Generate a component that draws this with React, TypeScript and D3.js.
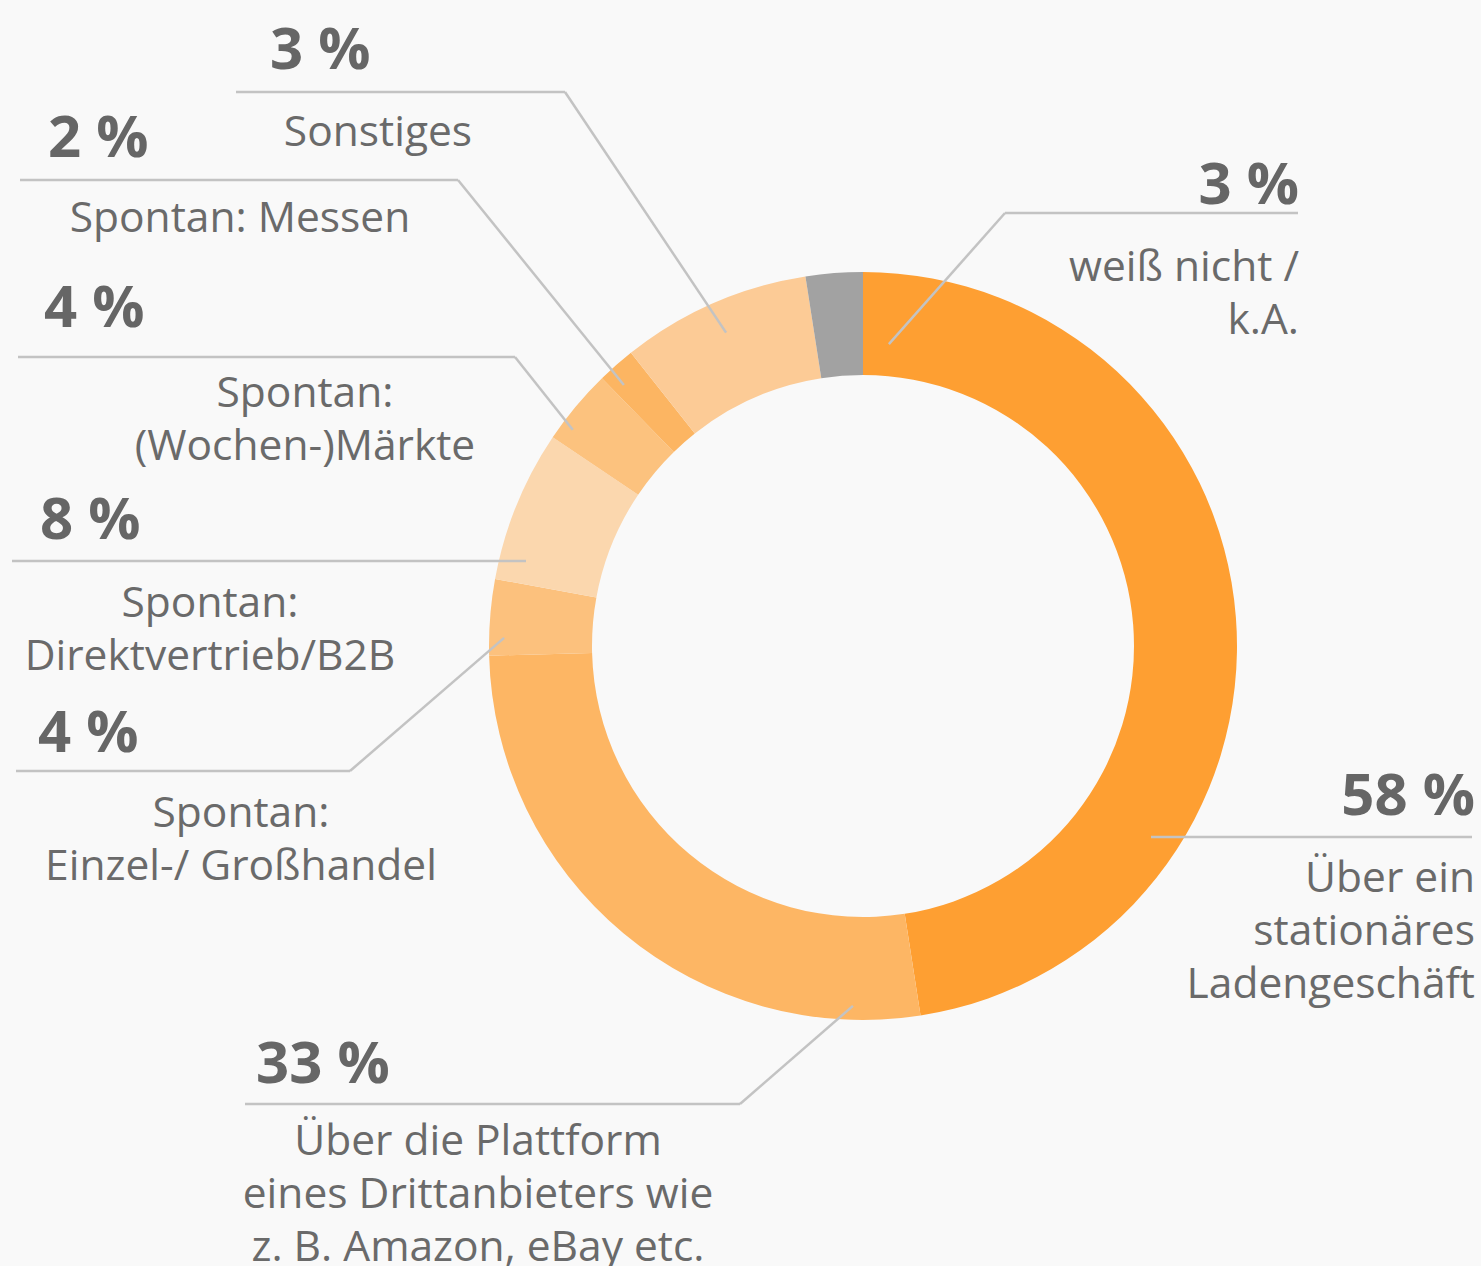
import React, { useEffect, useRef } from 'react';
import * as d3 from 'd3';

// slices clockwise from 12 o'clock
const CATEGORIES = [
  'Über ein stationäres Ladengeschäft',
  'Über die Plattform eines Drittanbieters wie z. B. Amazon, eBay etc.',
  'Spontan: Einzel-/ Großhandel',
  'Spontan: Direktvertrieb/B2B',
  'Spontan: (Wochen-)Märkte',
  'Spontan: Messen',
  'Sonstiges',
  'weiß nicht / k.A.',
];

// printed percentages
const PERCENTS = [58, 33, 4, 8, 4, 2, 3, 3];

// arc sizes as they appear in the picture (the Sonstiges slice is drawn larger than its label)
const SLICE_VALUES = [58, 33, 4, 8, 4, 2, 10, 3];

const LABEL_LINES = [
  ['Über ein', 'stationäres', 'Ladengeschäft'],
  ['Über die Plattform', 'eines Drittanbieters wie', 'z. B. Amazon, eBay etc.'],
  ['Spontan:', 'Einzel-/ Großhandel'],
  ['Spontan:', 'Direktvertrieb/B2B'],
  ['Spontan:', '(Wochen-)Märkte'],
  ['Spontan: Messen'],
  ['Sonstiges'],
  ['weiß nicht /', 'k.A.'],
];

const COLORS = ['#fe9f32', '#fdb664', '#fcc17d', '#fbd7ae', '#fcc27e', '#fcb562', '#fccb96', '#a2a2a2'];

// label placement (layout only)
const LAYOUT = [
  { px: 1475, pAnchor: 'end', py: 815, ly: 837, lx1: 1151, lx2: 1472, leader: null, dx: 1475, dAnchor: 'end', dy: 892 },
  { px: 256, pAnchor: 'start', py: 1083, ly: 1104, lx1: 245, lx2: 740, leader: { from: 740, a: 181.6, r: 360 }, dx: 478, dAnchor: 'middle', dy: 1155 },
  { px: 38, pAnchor: 'start', py: 752, ly: 771, lx1: 16, lx2: 350, leader: { from: 350, a: 271.3, r: 359 }, dx: 241, dAnchor: 'middle', dy: 827 },
  { px: 40, pAnchor: 'start', py: 539, ly: 561, lx1: 12, lx2: 526, leader: null, dx: 210, dAnchor: 'middle', dy: 617 },
  { px: 44, pAnchor: 'start', py: 327, ly: 357, lx1: 18, lx2: 515, leader: { from: 515, a: 306.7, r: 362 }, dx: 305, dAnchor: 'middle', dy: 407 },
  { px: 48, pAnchor: 'start', py: 157, ly: 180, lx1: 20, lx2: 458, leader: { from: 458, a: 317.5, r: 354 }, dx: 240, dAnchor: 'middle', dy: 232 },
  { px: 270, pAnchor: 'start', py: 69, ly: 92, lx1: 236, lx2: 565, leader: { from: 565, a: 336.4, r: 342 }, dx: 378, dAnchor: 'middle', dy: 146 },
  { px: 1299, pAnchor: 'end', py: 204, ly: 213, lx1: 1005, lx2: 1298, leader: { from: 1005, a: 4.9, r: 303 }, dx: 1299, dAnchor: 'end', dy: 281 },
];

const App = () => {
  const ref = useRef<SVGSVGElement>(null);

  useEffect(() => {
    document.body.style.margin = '0';
    document.body.style.background = '#f9f9f9';

    const width = 1481,
      height = 1266,
      cx = 863,
      cy = 646,
      outer = 374,
      inner = 271,
      lineHeight = 53;

    const svg = d3.select(ref.current);
    svg.selectAll('*').remove();
    svg.attr('width', width).attr('height', height);

    svg.append('rect').attr('width', width).attr('height', height).attr('fill', '#f9f9f9');

    const data = CATEGORIES.map((name, i) => ({ name, value: SLICE_VALUES[i], pct: PERCENTS[i], i }));

    const pie = d3
      .pie<any>()
      .sort(null)
      .value(d => d.value);
    const arc = d3.arc<any>().innerRadius(inner).outerRadius(outer);

    const g = svg.append('g').attr('transform', `translate(${cx},${cy})`);
    g.selectAll('path')
      .data(pie(data))
      .enter()
      .append('path')
      .attr('d', arc)
      .attr('fill', d => COLORS[d.data.i]);

    const labels = svg
      .selectAll('.label')
      .data(data)
      .enter()
      .append('g')
      .attr('class', 'label')
      .style('font-family', '"Open Sans", sans-serif');

    // horizontal rule under the percentage
    labels
      .append('line')
      .attr('x1', d => LAYOUT[d.i].lx1)
      .attr('x2', d => LAYOUT[d.i].lx2)
      .attr('y1', d => LAYOUT[d.i].ly)
      .attr('y2', d => LAYOUT[d.i].ly)
      .attr('stroke', '#c3c3c3')
      .attr('stroke-width', 2.5);

    // leader into the ring
    labels
      .filter(d => LAYOUT[d.i].leader !== null)
      .append('line')
      .attr('x1', d => LAYOUT[d.i].leader!.from)
      .attr('y1', d => LAYOUT[d.i].ly)
      .attr('x2', d => {
        const l = LAYOUT[d.i].leader!;
        return cx + d3.pointRadial((l.a * Math.PI) / 180, l.r)[0];
      })
      .attr('y2', d => {
        const l = LAYOUT[d.i].leader!;
        return cy + d3.pointRadial((l.a * Math.PI) / 180, l.r)[1];
      })
      .attr('stroke', '#c3c3c3')
      .attr('stroke-width', 2.5);

    labels
      .append('text')
      .attr('x', d => LAYOUT[d.i].px)
      .attr('y', d => LAYOUT[d.i].py)
      .attr('text-anchor', d => LAYOUT[d.i].pAnchor)
      .style('font-size', '58px')
      .style('font-weight', 700)
      .style('fill', '#666666')
      .text(d => `${d.pct} %`);

    labels
      .append('text')
      .attr('text-anchor', d => LAYOUT[d.i].dAnchor)
      .style('font-size', '42.5px')
      .style('fill', '#6a6a6a')
      .selectAll('tspan')
      .data(d => LABEL_LINES[d.i].map((t, k) => ({ t, k, lay: LAYOUT[d.i] })))
      .enter()
      .append('tspan')
      .attr('x', d => d.lay.dx)
      .attr('y', d => d.lay.dy + d.k * lineHeight)
      .text(d => d.t);
  }, []);

  return <svg ref={ref} style={{ display: 'block' }}></svg>;
};

export default App;
